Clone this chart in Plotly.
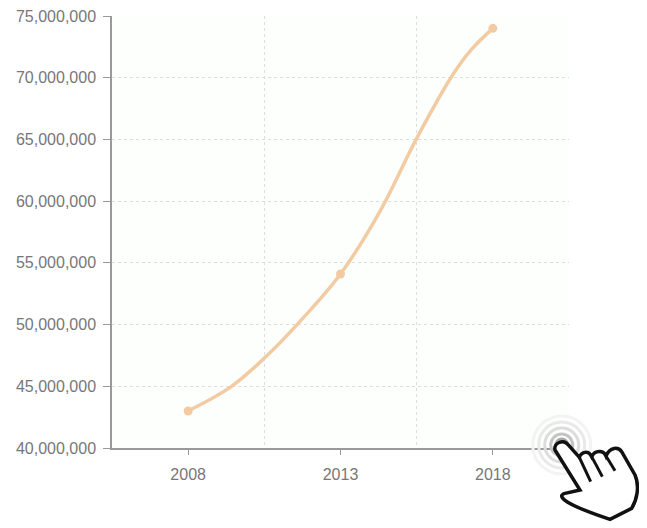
import plotly.graph_objects as go

years = [2008, 2013, 2018]
values = [43000000, 54100000, 74000000]
# the drawn curve at several places along the line
curve_years = [2008, 2009.4, 2010.53, 2011.65, 2013, 2014.3, 2015.5, 2016.7, 2017.3, 2018]
curve_values = [43000000, 44950000, 47350000, 50200000, 54100000, 59200000, 65090000, 70300000, 72300000, 74000000]
y_ticks = [40000000, 45000000, 50000000, 55000000, 60000000, 65000000, 70000000, 75000000]
x_grid = [2010.5, 2015.5, 2020.5]

COLOR = "#f2cba3"
PLOT_L, PLOT_T, PLOT_W, PLOT_H = 112, 16, 457, 432  # page pixels


def px(x):
    return (x - PLOT_L) / PLOT_W


def py(y):
    return (PLOT_T + PLOT_H - y) / PLOT_H


def hand(points):
    """Build an SVG path in paper coordinates from (cmd, zoom-pixel pairs)."""
    out = []
    for cmd, coords in points:
        pairs = [f"{px(520 + coords[i] / 3):.5f},{py(400 + coords[i + 1] / 3):.5f}" for i in range(0, len(coords), 2)]
        out.append(cmd + " " + " ".join(pairs))
    return " ".join(out)


fig = go.Figure()
fig.add_trace(go.Scatter(
    x=curve_years, y=curve_values, mode="lines",
    line=dict(color=COLOR, width=3.5, shape="spline", smoothing=1.0),
    hoverinfo="skip",
))
fig.add_trace(go.Scatter(
    x=years, y=values, mode="markers",
    marker=dict(color=COLOR, size=9),
    hoverinfo="skip",
))

shapes = []
for r, col in [(29, "#f3f3f3"), (23, "#e9e9e9"), (17, "#dcdcdc"), (11, "#c4c4c4"), (6, "#a8a8a8")]:
    cx, cy = 561.7, 445
    shapes.append(dict(type="circle", xref="paper", yref="paper",
                       x0=px(cx - r), x1=px(cx + r), y0=py(cy + r), y1=py(cy - r),
                       fillcolor="rgba(0,0,0,0)", line=dict(color=col, width=3)))
shapes.append(dict(type="path", xref="paper", yref="paper",
                   path=hand([("M", [268, 378]), ("L", [372, 322, 345, 350, 290, 378])]) + " Z",
                   fillcolor="#777777", line=dict(width=0)))
outline = hand([
    ("M", [105, 150]), ("C", [100, 130, 130, 115, 145, 135]), ("L", [178, 172]),
    ("C", [185, 155, 205, 150, 215, 170]), ("C", [225, 150, 250, 150, 258, 168]),
    ("C", [270, 140, 295, 140, 305, 155]), ("L", [345, 225]),
    ("C", [360, 260, 350, 300, 335, 325]), ("L", [270, 358, 130, 318]),
    ("C", [110, 305, 115, 285, 135, 280]), ("L", [180, 270]),
]) + " Z"
shapes.append(dict(type="path", xref="paper", yref="paper", path=outline,
                   fillcolor="white", line=dict(color="#111111", width=3.5)))
for seg in ([178, 172, 212, 245], [215, 170, 247, 230], [258, 168, 285, 212]):
    shapes.append(dict(type="path", xref="paper", yref="paper",
                       path=hand([("M", seg[:2]), ("L", seg[2:])]),
                       line=dict(color="#111111", width=3)))

fig.update_layout(
    width=647, height=528,
    margin=dict(l=104, r=86, t=8, b=88, autoexpand=False),
    paper_bgcolor="white", plot_bgcolor="#fdfffd",
    showlegend=False,
    font=dict(family="Liberation Sans, Arial, sans-serif", size=16, color="#777777"),
    shapes=shapes,
    xaxis=dict(range=[2005.5, 2020.5], tickmode="array", tickvals=years, ticktext=[str(y) for y in years],
               showgrid=False, showline=True, linecolor="#999999", linewidth=1.5, zeroline=False,
               ticks="outside", ticklen=5, tickcolor="#999999", tickwidth=1, ticklabelstandoff=6,
               tickfont=dict(size=16),
               minor=dict(tickmode="array", tickvals=x_grid, showgrid=True, gridcolor="#dddddd",
                          griddash="dot", gridwidth=1, ticks="")),
    yaxis=dict(range=[40000000, 75000000], tickvals=y_ticks, tickformat=",d",
               showgrid=True, gridcolor="#dddddd", griddash="dot", gridwidth=1,
               showline=True, linecolor="#999999", linewidth=1.5, zeroline=False,
               ticks="outside", ticklen=7, tickcolor="#999999", tickwidth=1, ticklabelstandoff=4,
               ticklabeloverflow="allow"),
)
fig.write_html("out.html")
